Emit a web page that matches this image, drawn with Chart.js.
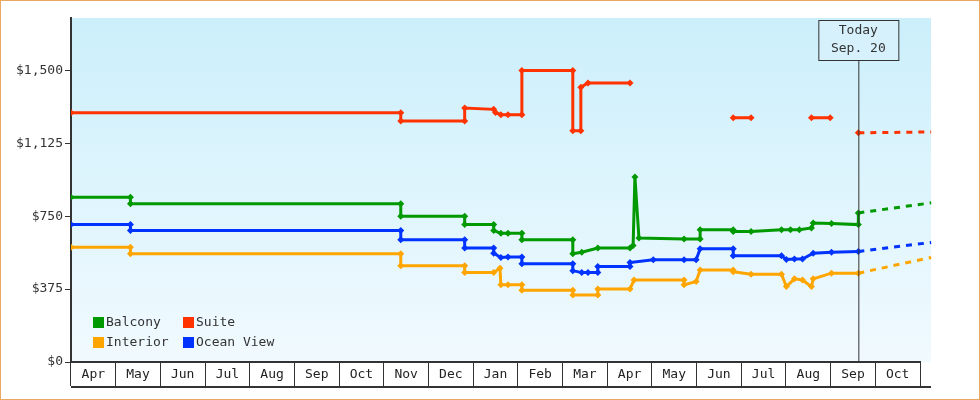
<!DOCTYPE html>
<html>
<head>
<meta charset="utf-8">
<script src="https://cdn.jsdelivr.net/npm/chart.js@4"></script>
<style>
  body { margin: 0; background: #fff; }
  #wrap { width: 980px; height: 400px; box-sizing: border-box; border: 1px solid #e8a860; }
</style>
</head>
<body>
<div id="wrap"><canvas id="c" width="978" height="398"></canvas></div>
<script>
// x = months since start of first April
const months = ['Apr', 'May', 'Jun', 'Jul', 'Aug', 'Sep', 'Oct', 'Nov', 'Dec', 'Jan', 'Feb', 'Mar', 'Apr', 'May', 'Jun', 'Jul', 'Aug', 'Sep', 'Oct'];
const todayX = 17.62;

const balconyX = [0, 1.33, 1.33, 7.38, 7.38, 8.81, 8.81, 9.46, 9.46, 9.62, 9.78, 10.09, 10.09, 11.23, 11.23, 11.43, 11.79, 12.51, 12.58, 12.62, 12.71, 13.72, 14.08, 14.08, 14.82, 14.82, 15.22, 15.9, 16.1, 16.3, 16.57, 16.61, 17.02, 17.62, 17.62];
const balconyY = [848, 848, 814, 814, 750, 750, 707, 707, 677, 662, 662, 662, 629, 629, 557, 565, 586, 586, 600, 952, 638, 633, 633, 681, 681, 672, 672, 681, 681, 681, 690, 715, 712, 707, 767];

const oceanX = [0, 1.33, 1.33, 7.38, 7.38, 8.81, 8.81, 9.46, 9.46, 9.62, 9.78, 10.09, 10.09, 11.23, 11.23, 11.43, 11.57, 11.79, 11.79, 12.51, 12.51, 13.03, 13.72, 13.99, 14.08, 14.82, 14.82, 15.9, 16.01, 16.19, 16.37, 16.61, 17.02, 17.62];
const oceanY = [707, 707, 676, 676, 629, 629, 586, 586, 560, 538, 540, 540, 505, 505, 470, 460, 460, 460, 491, 491, 512, 526, 526, 526, 583, 583, 547, 547, 527, 530, 530, 560, 565, 569];

const interiorX = [0, 1.33, 1.33, 7.38, 7.38, 8.81, 8.81, 9.46, 9.6, 9.62, 9.78, 10.09, 10.09, 11.23, 11.23, 11.79, 11.79, 12.51, 12.6, 13.72, 13.72, 13.99, 14.08, 14.82, 14.82, 15.22, 15.9, 16.01, 16.19, 16.37, 16.57, 16.61, 17.02, 17.62];
const interiorY = [590, 590, 557, 557, 495, 495, 460, 460, 483, 397, 397, 397, 369, 369, 345, 345, 376, 376, 422, 422, 397, 414, 474, 474, 465, 452, 452, 388, 428, 422, 388, 428, 457, 457];

const suiteX = [0, 7.38, 7.38, 8.81, 8.81, 9.46, 9.5, 9.62, 9.78, 10.09, 10.09, 11.23, 11.23, 11.41, 11.41, 11.57, 12.51, 13.5, 14.82, 15.22, 16, 16.57, 16.99, 17.3, 17.62];
const suiteY = [1283, 1283, 1240, 1240, 1307, 1300, 1284, 1272, 1272, 1272, 1500, 1500, 1190, 1190, 1414, 1436, 1436, null, 1257, 1257, null, 1257, 1257, null, 1179];

// projections after today
const projX = [17.62, 19.25];
const balconyProj = [767, 819];
const oceanProj = [569, 615];
const interiorProj = [457, 538];
const suiteProj = [1179, 1184];

const yTicks = [0, 375, 750, 1125, 1500];

const FONT = '"DejaVu Sans Mono", monospace';
const pts = (xs, ys) => xs.map((x, i) => ({x: x, y: ys[i]}));

function series(label, xs, ys, color) {
    return {
        label: label, data: pts(xs, ys), borderColor: color, backgroundColor: color,
        borderWidth: 3, pointStyle: 'rectRot', pointRadius: 3.5, pointHoverRadius: 3.5,
        pointBorderWidth: 0, spanGaps: false, tension: 0,
    };
}
function proj(xs, ys, color) {
    return {
        label: '', data: pts(xs, ys), borderColor: color, borderWidth: 3,
        borderDash: [6, 6], pointRadius: 0, clip: false,
    };
}

const colors = {balcony: '#009900', suite: '#ff3300', interior: '#ffa500', ocean: '#0033ff'};

const decor = {
    id: 'decor',
    beforeDraw(chart) {
        const ctx = chart.ctx, a = chart.chartArea;
        const g = ctx.createLinearGradient(0, a.top, 0, a.bottom);
        g.addColorStop(0, '#cbeffb');
        g.addColorStop(1, '#f1fafe');
        ctx.save();
        ctx.fillStyle = g;
        ctx.fillRect(a.left, a.top, a.right + 11 - a.left, a.bottom - a.top);
        ctx.restore();
    },
    afterDraw(chart) {
        const ctx = chart.ctx, a = chart.chartArea;
        const tx = chart.scales.x.getPixelForValue(todayX);
        ctx.save();
        // month strip bottom line
        ctx.strokeStyle = '#333';
        ctx.lineWidth = 2;
        ctx.beginPath();
        ctx.moveTo(a.left, a.bottom + 25);
        ctx.lineTo(a.right + 11, a.bottom + 25);
        ctx.stroke();
        // today line and box
        ctx.lineWidth = 1;
        ctx.beginPath();
        ctx.moveTo(tx + 0.5, a.top + 42);
        ctx.lineTo(tx + 0.5, a.bottom);
        ctx.stroke();
        ctx.fillStyle = '#d6f1fb';
        ctx.fillRect(tx - 40, a.top + 2, 80, 40);
        ctx.strokeRect(tx - 40 + 0.5, a.top + 2.5, 80, 40);
        ctx.fillStyle = '#333';
        ctx.font = '13px ' + FONT;
        ctx.textAlign = 'center';
        ctx.textBaseline = 'middle';
        ctx.fillText('Today', tx, a.top + 13);
        ctx.fillText('Sep. 20', tx, a.top + 31);
        // legend
        const items = [['Balcony', colors.balcony, 0, 0], ['Suite', colors.suite, 1, 0],
                       ['Interior', colors.interior, 0, 1], ['Ocean View', colors.ocean, 1, 1]];
        ctx.textAlign = 'left';
        items.forEach(([t, c, col, row]) => {
            const x = a.left + 22 + col * 90, y = a.bottom - 40 + row * 20;
            ctx.fillStyle = c;
            ctx.fillRect(x, y - 5, 11, 11);
            ctx.fillStyle = '#333';
            ctx.fillText(t, x + 13, y + 1);
        });
        ctx.restore();
    }
};

new Chart(document.getElementById('c'), {
    type: 'line',
    data: {
        datasets: [
            series('Suite', suiteX, suiteY, colors.suite),
            series('Balcony', balconyX, balconyY, colors.balcony),
            series('Ocean View', oceanX, oceanY, colors.ocean),
            series('Interior', interiorX, interiorY, colors.interior),
            proj(projX, suiteProj, colors.suite),
            proj(projX, balconyProj, colors.balcony),
            proj(projX, oceanProj, colors.ocean),
            proj(projX, interiorProj, colors.interior),
        ],
    },
    options: {
        animation: false,
        responsive: false,
        layout: {padding: {top: 17, right: 59, bottom: 12, left: 0}},
        plugins: {legend: {display: false}, tooltip: {enabled: false}},
        scales: {
            x: {type: 'linear', min: 0, max: 19, display: false},
            xm: {
                type: 'category', labels: months, position: 'bottom', offset: true,
                afterFit: s => { s.height = 25; },
                grid: {drawOnChartArea: false, offset: true, tickLength: 24, color: '#333', lineWidth: 1},
                border: {color: '#333', width: 2},
                ticks: {padding: -19, color: '#222', font: {family: FONT, size: 13}, maxRotation: 0, autoSkip: false},
            },
            y: {
                min: 0, max: 1770,
                afterBuildTicks: s => { s.ticks = yTicks.map(v => ({value: v})); },
                afterFit: s => { s.width = 70; },
                grid: {drawOnChartArea: false, tickLength: 6, color: '#333'},
                border: {color: '#333', width: 2},
                ticks: {
                    color: '#333', font: {family: FONT, size: 13}, padding: 2,
                    callback: v => '$' + v.toLocaleString('en-US'),
                },
            },
        },
    },
    plugins: [decor],
});
</script>
</body>
</html>
